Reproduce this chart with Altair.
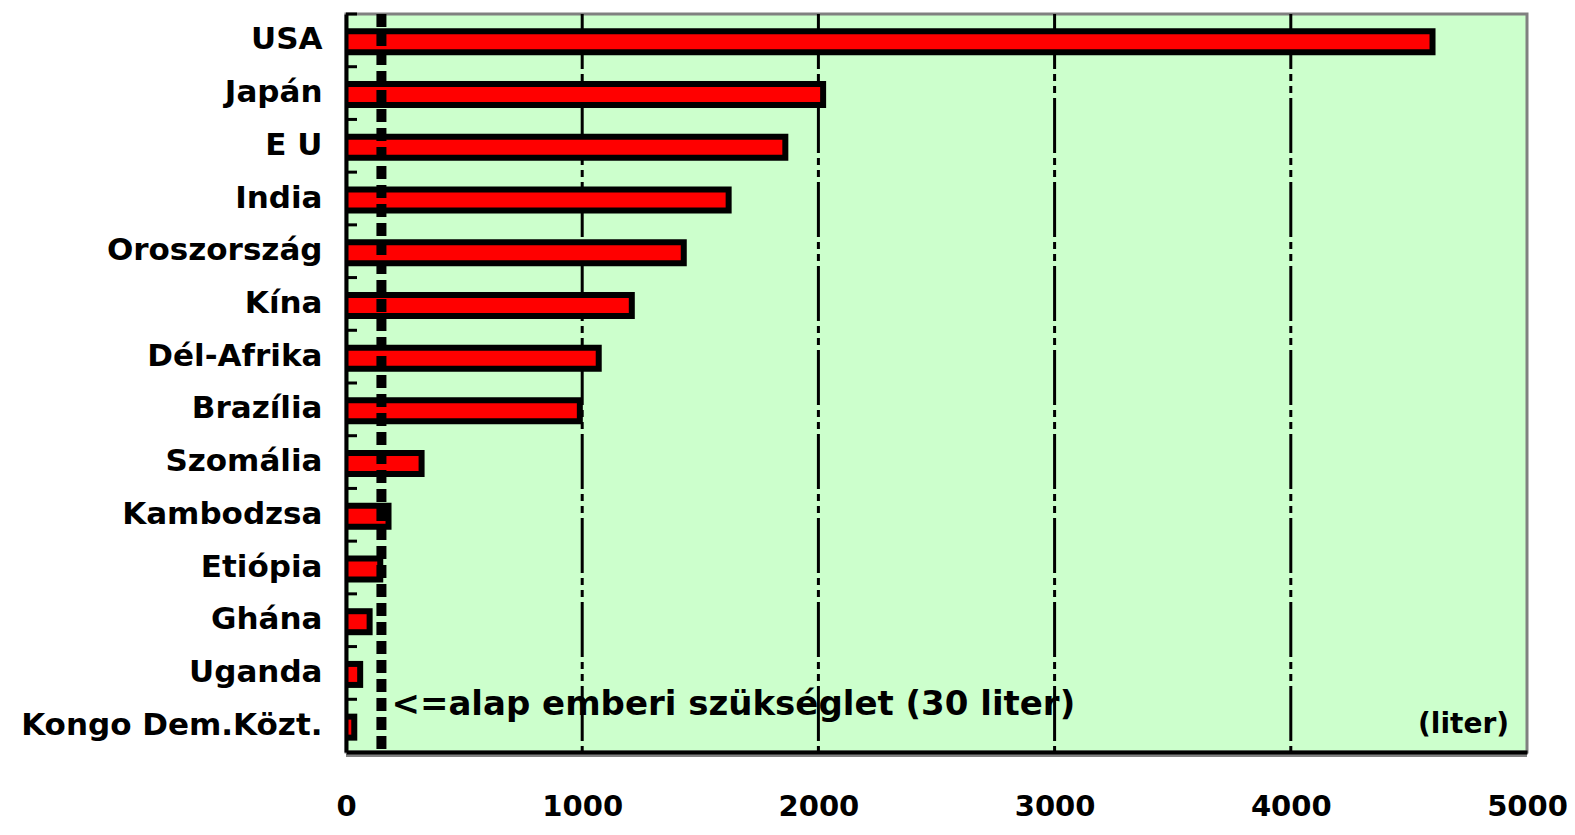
import altair as alt
import pandas as pd

# --- data ---
countries = ["USA", "Japán", "E U", "India", "Oroszország", "Kína", "Dél-Afrika",
             "Brazília", "Szomália", "Kambodzsa", "Etiópia", "Ghána", "Uganda",
             "Kongo Dem.Közt."]
liters = [4600, 2020, 1860, 1620, 1430, 1210, 1070, 990, 320, 180, 145, 100, 60, 35]
x_ticks = [0, 1000, 2000, 3000, 4000, 5000]
grid_values = [1000, 2000, 3000, 4000]
basic_need = [150]
annotation = "<=alap emberi szükséglet (30 liter)"
unit_label = "(liter)"

W, H = 1181, 738
FONT = "DejaVu Sans"

df = pd.DataFrame({"country": countries, "value": liters})
grid_df = pd.DataFrame({"g": grid_values})
need_df = pd.DataFrame({"v": basic_need, "label": [annotation]})

xscale = alt.Scale(domain=[0, 5000], nice=False, zero=True)
yscale = alt.Scale(domain=countries, paddingInner=0, paddingOuter=0)

base = alt.Chart(df)

black_bars = base.mark_bar(color="black", size=27, yOffset=1.5, xOffset=3).encode(
    x=alt.X("value:Q", scale=xscale,
            axis=alt.Axis(values=x_ticks, format="d", title=None, grid=False, ticks=False,
                          domainColor="black", domainWidth=4, labelFont=FONT,
                          labelFontWeight="bold", labelFontSize=29, labelColor="black",
                          labelPadding=40, labelBaseline="top", labelFlush=False,
                          labelOverlap=False, zindex=1)),
    x2=alt.datum(0),
    y=alt.Y("country:N", scale=yscale, sort=None,
            axis=alt.Axis(title=None, ticks=False, domainColor="black", domainWidth=4,
                          labelFont=FONT, labelFontWeight="bold", labelFontSize=31,
                          labelColor="black", labelPadding=24, labelLimit=500,
                          zindex=1)),
)

red_bars = base.mark_bar(color="#FF0000", size=15, yOffset=1.5, xOffset=-3).encode(
    x=alt.X("value:Q", scale=xscale),
    x2=alt.datum(0),
    y=alt.Y("country:N", scale=yscale, sort=None),
)

left_ticks = base.mark_rule(color="black", strokeWidth=3).encode(
    y=alt.Y("country:N", scale=yscale, sort=None, bandPosition=0),
    x=alt.value(0),
    x2=alt.value(11),
)

grid = alt.Chart(grid_df).mark_rule(color="black", strokeWidth=3,
                                    strokeDash=[55, 5, 7, 5, 7, 5]).encode(
    x=alt.X("g:Q", scale=xscale)
)

need_line = alt.Chart(need_df).mark_rule(color="black", strokeWidth=10,
                                         strokeDash=[13, 6]).encode(
    x=alt.X("v:Q", scale=xscale)
)

need_text = alt.Chart(need_df).mark_text(align="left", baseline="alphabetic", dx=10,
                                         font=FONT, fontWeight="bold", fontSize=34,
                                         color="black").encode(
    x=alt.X("v:Q", scale=xscale),
    y=alt.value(701),
    text="label:N",
)

unit_text = alt.Chart(pd.DataFrame({"t": [unit_label]})).mark_text(
    align="right", baseline="alphabetic", font=FONT, fontWeight="bold", fontSize=28,
    color="black").encode(
    x=alt.value(W - 18),
    y=alt.value(719),
    text="t:N",
)

shadow = alt.Chart(pd.DataFrame({"t": [0]})).mark_rule(color="#808080", strokeWidth=3).encode(
    x=alt.value(0), x2=alt.value(W), y=alt.value(H + 3.5)
)

chart = alt.layer(
    grid, black_bars, red_bars, left_ticks, need_line, need_text, unit_text, shadow
).properties(
    width=W, height=H,
    padding={"left": 338, "top": 6, "right": 40, "bottom": 72},
    autosize=alt.AutoSizeParams(type="none"),
    background="white",
).configure_view(
    fill="#CCFFCC", stroke="#808080", strokeWidth=3
)

chart.save("out.html", embed_options={"renderer": "svg", "actions": False})
